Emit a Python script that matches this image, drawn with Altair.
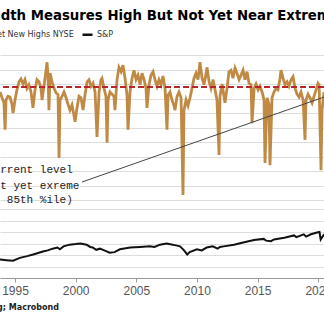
import altair as alt
import pandas as pd

TITLE = "Breadth Measures High But Not Yet Near Extremes"
SOURCE = "Source: Bloomberg; Macrobond"
SERIES = ["Net New Highs NYSE", "S&P"]
COLORS = ["#C08A45", "#111111"]
RED = "#B8262B"

# Net new highs (NYSE)
nh_years = [1993.76, 1993.93, 1994.09, 1994.18, 1994.26, 1994.42, 1994.59, 1994.75, 1994.84, 1995.00,
            1995.16, 1995.33, 1995.49, 1995.66, 1995.82, 1995.99, 1996.15, 1996.32, 1996.48, 1996.65,
            1996.81, 1996.98, 1997.14, 1997.23, 1997.39, 1997.56, 1997.64, 1997.72, 1997.80, 1997.89,
            1998.05, 1998.22, 1998.38, 1998.55, 1998.63, 1998.71, 1998.88, 1999.04, 1999.21, 1999.37,
            1999.53, 1999.70, 1999.86, 1999.95, 2000.11, 2000.28, 2000.44, 2000.61, 2000.77, 2000.94,
            2001.10, 2001.27, 2001.43, 2001.60, 2001.76, 2001.93, 2002.09, 2002.17, 2002.34, 2002.50,
            2002.59, 2002.67, 2002.83, 2003.00, 2003.16, 2003.24, 2003.41, 2003.57, 2003.74, 2003.90,
            2004.07, 2004.23, 2004.32, 2004.48, 2004.65, 2004.81, 2004.98, 2005.14, 2005.31, 2005.47,
            2005.64, 2005.80, 2005.88, 2006.05, 2006.21, 2006.38, 2006.54, 2006.71, 2006.87, 2007.04,
            2007.20, 2007.37, 2007.53, 2007.62, 2007.78, 2007.94, 2008.11, 2008.19, 2008.36, 2008.52,
            2008.69, 2008.85, 2008.93, 2009.10, 2009.26, 2009.43, 2009.59, 2009.76, 2009.92, 2010.09,
            2010.25, 2010.42, 2010.58, 2010.75, 2010.83, 2011.00, 2011.16, 2011.33, 2011.49, 2011.65,
            2011.82, 2011.90, 2012.07, 2012.23, 2012.31, 2012.48, 2012.64, 2012.81, 2012.97, 2013.14,
            2013.30, 2013.47, 2013.63, 2013.80, 2013.96, 2014.13, 2014.29, 2014.46, 2014.54, 2014.71,
            2014.87, 2015.04, 2015.20, 2015.37, 2015.53, 2015.61, 2015.78, 2015.94, 2016.02, 2016.19,
            2016.35, 2016.52, 2016.68, 2016.85, 2016.93, 2017.10, 2017.26, 2017.43, 2017.59, 2017.76,
            2017.92, 2018.09, 2018.25, 2018.42, 2018.58, 2018.75, 2018.91, 2018.99, 2019.16, 2019.32,
            2019.49, 2019.65, 2019.82, 2019.98, 2020.07, 2020.23, 2020.31, 2020.48]
nh_values = [145, 105, 70, -115, 90, 115, 110, 60, 0, 90,
             160, 215, 235, 200, 230, 170, 195, 145, 35, 160,
             230, 215, 170, 90, 185, 295, 350, 260, 20, 275,
             215, 170, 140, 125, -310, 90, 115, 145, 105, 60,
             20, 55, -15, -60, 35, 115, 105, 20, 125, 215,
             230, 185, 205, 145, -165, 145, 230, 240, 170, 115,
             -205, 90, 145, 130, 115, 20, 230, 315, 285, 330,
             240, 125, -115, 145, 240, 295, 230, 260, 195, 275,
             230, 170, 35, 195, 260, 285, 230, 185, 230, 195,
             255, 170, -115, 125, 145, 90, 50, 20, 115, 145,
             105, -565, 20, 90, 50, 105, 170, 240, 275, 230,
             350, 240, 195, 270, 315, 215, 170, 230, 160, 90,
             -290, 115, 200, 115, 70, 170, 285, 295, 240, 310,
             275, 230, 260, 295, 230, 285, 205, 195, -70, 170,
             200, 160, 185, 145, 90, -345, 105, 60, -360, 105,
             145, 170, 160, 240, 295, 240, 195, 215, 185, 230,
             250, 170, 130, 110, 145, 90, -185, 90, 130, 105,
             70, 115, 160, 205, 195, -395, 20, 145]

# S&P (relative level)
sp_years = [1993.76, 1994.3, 1994.84, 1995.4, 1996.0, 1996.5, 1997.3, 1997.7, 1998.1, 1998.5,
            1998.7, 1999.0, 1999.5, 2000.0, 2000.4, 2000.9, 2001.2, 2001.4, 2001.7, 2002.0,
            2002.6, 2002.8, 2003.2, 2003.65, 2004.5, 2005.3, 2006.1, 2006.5, 2006.95, 2007.5,
            2008.0, 2008.6, 2008.9, 2009.2, 2009.4, 2010.0, 2010.4, 2010.8, 2011.3, 2011.7,
            2011.9, 2012.2, 2013.05, 2013.9, 2014.7, 2015.5, 2015.7, 2016.1, 2016.35, 2017.2,
            2018.0, 2018.2, 2018.8, 2019.0, 2019.4, 2019.9, 2020.1, 2020.2, 2020.48]
sp_values = [16, 15.5, 15, 17.5, 19, 20.5, 23, 24, 25.5, 26.5,
             25, 27.5, 29, 29.5, 30, 29, 27, 26.5, 24.5, 25.5,
             23, 22, 22.5, 25, 26.5, 27, 27.5, 27, 29, 30,
             29, 27.5, 24.5, 20.5, 22.5, 25, 24, 26.5, 27.5, 25.5,
             27, 27.5, 29, 31, 33, 34, 32.5, 32, 33.5, 35,
             37, 35.5, 38, 36, 38, 39.5, 40, 33.5, 38]

assert len(nh_years) == len(nh_values)
assert len(sp_years) == len(sp_values)

threshold = [180]  # ~85th percentile line
ann_start = [2000.52, -476]
ann_end = [2020.48, 110]
ann_lines = ["Current level", "not yet exreme", "(~ 85th %ile)"]
ann_text_x = [1992.69, 1992.69, 1992.69]
ann_text_y = [-417, -521, -624]

x_ticks = [1995, 2000, 2005, 2010, 2015, 2020]
nh_grid = [-600, -500, -400, -300, -200, -100, 0, 100, 200, 300, 400]
sp_grid = [0, 10, 20, 30, 40, 50, 60]

X_DOMAIN = [1993.763, 2020.474]
NH_DOMAIN = [-1137.9, 779.3]
SP_DOMAIN = [0, 241.74]

W, H = 324, 278

nh_df = pd.DataFrame({"year": nh_years, "nh": nh_values, "series": SERIES[0]})
sp_df = pd.DataFrame({"year": sp_years, "sp": sp_values, "series": SERIES[1]})
thr_df = pd.DataFrame({"nh": threshold})
ann_df = pd.DataFrame({"x1": [ann_start[0]], "nh": [ann_start[1]],
                       "x2": [ann_end[0]], "nh2": [ann_end[1]]})
ann_txt_df = pd.DataFrame({"tx": ann_text_x, "nh": ann_text_y, "label": ann_lines})
title_df = pd.DataFrame({"t": [TITLE]})
source_df = pd.DataFrame({"t": [SOURCE]})

X_SCALE = alt.Scale(domain=X_DOMAIN, nice=False, zero=False)
X_AXIS = alt.Axis(values=x_ticks, format="d", title=None, grid=False,
                  labelFont="Liberation Sans", labelFontSize=12, labelColor="#555555",
                  tickSize=4, tickColor="#999999", domainColor="#999999",
                  labelPadding=3, labelFlush=False)
NH_SCALE = alt.Scale(domain=NH_DOMAIN, nice=False, zero=False)
NH_AXIS = alt.Axis(values=nh_grid, grid=True, labels=False, ticks=False, domain=False,
                   title=None, gridColor="#dddddd", gridWidth=1)
SP_SCALE = alt.Scale(domain=SP_DOMAIN, nice=False, zero=False)
SP_AXIS = alt.Axis(values=sp_grid, grid=True, labels=False, ticks=False, domain=False,
                   title=None, gridColor="#dddddd", gridWidth=1)

COLOR = alt.Color(
    "series:N",
    scale=alt.Scale(domain=SERIES, range=COLORS),
    legend=alt.Legend(title=None, orient="none", legendX=-25, legendY=28,
                      direction="horizontal", symbolType="stroke", symbolSize=100,
                      symbolStrokeWidth=2.5, labelFont="DejaVu Sans", labelFontSize=8,
                      labelColor="#333333", columnPadding=3, labelOffset=3, padding=0),
)

nh_line = alt.Chart(nh_df).mark_line(strokeWidth=2.8).encode(
    x=alt.X("year:Q", scale=X_SCALE, axis=X_AXIS),
    y=alt.Y("nh:Q", scale=NH_SCALE, axis=NH_AXIS),
    color=COLOR,
)
thr_rule = alt.Chart(thr_df).mark_rule(color=RED, strokeWidth=2, strokeDash=[6, 3]).encode(
    y=alt.Y("nh:Q", scale=NH_SCALE, axis=NH_AXIS),
)
ann_rule = alt.Chart(ann_df).mark_rule(color="#444444", strokeWidth=1).encode(
    x=alt.X("x1:Q", scale=X_SCALE, axis=X_AXIS),
    x2="x2:Q",
    y=alt.Y("nh:Q", scale=NH_SCALE, axis=NH_AXIS),
    y2="nh2:Q",
)
ann_text = alt.Chart(ann_txt_df).mark_text(
    font="Liberation Mono", fontSize=11, align="left", baseline="alphabetic", color="#222222"
).encode(
    x=alt.X("tx:Q", scale=X_SCALE, axis=X_AXIS),
    y=alt.Y("nh:Q", scale=NH_SCALE, axis=NH_AXIS),
    text="label:N",
)
top = alt.layer(nh_line, thr_rule, ann_rule, ann_text)

sp_line = alt.Chart(sp_df).mark_line(strokeWidth=2).encode(
    x=alt.X("year:Q", scale=X_SCALE, axis=X_AXIS),
    y=alt.Y("sp:Q", scale=SP_SCALE, axis=SP_AXIS),
    color=COLOR,
)

title_text = alt.Chart(title_df).mark_text(
    font="DejaVu Sans", fontSize=13.3, fontWeight="bold", align="left",
    baseline="alphabetic", color="#000000"
).encode(x=alt.value(-34), y=alt.value(20), text="t:N")

source_text = alt.Chart(source_df).mark_text(
    font="DejaVu Sans", fontSize=8, fontWeight="bold", align="right",
    baseline="alphabetic", color="#222222"
).encode(x=alt.value(59), y=alt.value(310), text="t:N")

chart = alt.layer(top, sp_line, title_text, source_text).resolve_scale(
    y="independent"
).properties(
    width=W, height=H,
    autosize=alt.AutoSizeParams(type="none"),
    padding={"left": 0, "top": 0, "right": 0, "bottom": 44},
    background="white",
).configure_view(stroke=None)

chart.save("out.html", embed_options={"renderer": "svg", "actions": False})
